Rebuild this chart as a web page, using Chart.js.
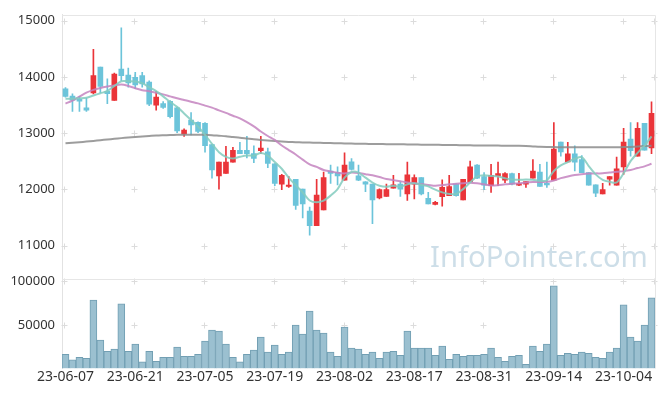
<!DOCTYPE html>
<html><head><meta charset="utf-8">
<script src="https://cdn.jsdelivr.net/npm/chart.js@4.4.0/dist/chart.umd.min.js"></script>
<style>html,body{margin:0;padding:0;background:#fff;}#wrap{width:665px;height:396px;}</style>
</head><body><div id="wrap"><canvas id="c" width="665" height="396"></canvas></div>
<script>
const dates = ['23-06-07','23-06-08','23-06-09','23-06-12','23-06-13','23-06-14','23-06-15','23-06-16','23-06-19','23-06-20',
'23-06-21','23-06-22','23-06-23','23-06-26','23-06-27','23-06-28','23-06-29','23-06-30','23-07-03','23-07-04',
'23-07-05','23-07-06','23-07-07','23-07-10','23-07-11','23-07-12','23-07-13','23-07-14','23-07-17','23-07-18',
'23-07-19','23-07-20','23-07-21','23-07-24','23-07-25','23-07-26','23-07-27','23-07-28','23-07-31','23-08-01',
'23-08-02','23-08-03','23-08-04','23-08-07','23-08-08','23-08-09','23-08-10','23-08-11','23-08-14','23-08-16',
'23-08-17','23-08-18','23-08-21','23-08-22','23-08-23','23-08-24','23-08-25','23-08-28','23-08-29','23-08-30',
'23-08-31','23-09-01','23-09-04','23-09-05','23-09-06','23-09-07','23-09-08','23-09-11','23-09-12','23-09-13',
'23-09-14','23-09-15','23-09-18','23-09-19','23-09-20','23-09-21','23-09-22','23-09-25','23-09-26','23-09-27',
'23-10-04','23-10-05','23-10-06','23-10-10','23-10-11'];

const openP = [13790,13660,13600,13450,13714,14175,13742,13584,14140,14035,
13995,14023,13907,13497,13526,13567,13450,12988,13233,13193,
13175,12795,12240,12286,12486,12697,12697,12637,12690,12667,
12456,12093,12052,12181,12005,11614,11356,11637,12328,12298,
12163,12491,12240,12135,12093,11847,11877,12023,12093,11918,
12093,12210,11842,11732,11872,11890,12093,11812,12135,12433,
12228,12065,12240,12163,12281,12075,12093,12198,12310,12110,
12163,12842,12491,12632,12532,12298,12082,11918,12181,12075,
12398,12895,12591,13175,12737];
const highP = [13810,13700,13654,13626,14491,14175,13965,14070,14872,14158,
14082,14082,13930,13742,13560,13580,13460,13075,13368,13200,
13190,12800,12486,12767,12750,12837,12942,12777,12942,12737,
12460,12268,12228,12181,12005,11684,12181,12310,12433,12400,
12649,12550,12433,12140,12093,12010,12093,12251,12135,12486,
12258,12210,11947,11790,12170,12251,12100,12181,12503,12440,
12298,12444,12486,12300,12290,12286,12140,12532,12444,12486,
13188,12842,12837,12777,12600,12298,12082,12110,12228,12574,
13088,13188,13188,13175,13556];
const lowP = [13640,13386,13386,13386,13700,13720,13526,13584,13935,13820,
13790,13820,13490,13409,13440,13270,13010,12942,12970,13010,
12660,12198,12005,12286,12486,12637,12561,12474,12637,12386,
12065,11995,12035,11644,11491,11188,11356,11637,12105,12080,
12163,12340,12154,11960,11391,11830,11877,12023,11877,11802,
11830,11900,11742,11725,11702,11890,11880,11812,12135,12190,
11995,11947,12065,12120,12080,12065,12035,12198,12052,12035,
12163,12591,12491,12328,12298,12075,11872,11918,12075,12075,
12268,12591,12591,12697,12637];
const closeP = [13654,13585,13567,13410,14023,13830,13702,14053,14023,13895,
13860,13877,13514,13644,13456,13293,13040,13053,13146,13030,
12777,12346,12486,12486,12697,12637,12637,12549,12737,12462,
12105,12251,12075,11714,11742,11356,11900,12210,12286,12240,
12433,12356,12163,12093,11812,11995,11995,12082,12005,12258,
12210,11918,11742,11772,12035,12052,11890,12181,12403,12198,
12075,12251,12281,12281,12093,12105,12140,12328,12052,12080,
12719,12667,12632,12486,12298,12075,11935,11995,12228,12368,
12842,12690,13088,12697,13351];

const ma5 = [13614,13614,13620,13630,13670,13710,13750,13840,13924,13924,
13920,13889,13819,13749,13655,13556,13468,13351,13234,13117,
12971,12810,12661,12579,12549,12579,12602,12602,12649,12602,
12486,12368,12210,12075,11947,11802,11772,11802,11889,12005,
12210,12310,12298,12210,12123,12065,12047,12065,12047,12093,
12111,12082,12053,11995,11947,11918,11918,12005,12123,12230,
12250,12240,12228,12198,12175,12170,12175,12170,12152,12163,
12328,12427,12486,12544,12573,12416,12268,12170,12135,12123,
12286,12503,12649,12777,12942];
const ma20 = [13526,13580,13650,13720,13770,13805,13830,13850,13865,13840,
13800,13765,13745,13720,13690,13655,13620,13590,13560,13530,
13490,13455,13405,13360,13310,13263,13195,13120,13030,12950,
12880,12780,12700,12620,12530,12444,12400,12345,12320,12295,
12285,12300,12290,12270,12250,12220,12185,12165,12145,12125,
12110,12095,12080,12065,12075,12090,12100,12110,12120,12110,
12090,12070,12075,12090,12100,12110,12123,12130,12133,12135,
12160,12200,12230,12255,12270,12281,12285,12286,12300,12315,
12325,12345,12380,12410,12456];
const ma120 = [12820,12830,12840,12850,12862,12875,12888,12900,12912,12922,
12932,12942,12950,12958,12963,12967,12970,12972,12973,12972,
12971,12965,12955,12945,12932,12920,12905,12890,12878,12868,
12860,12852,12845,12840,12836,12833,12830,12827,12824,12821,
12818,12815,12812,12810,12808,12806,12805,12803,12802,12800,
12798,12796,12795,12793,12791,12790,12788,12786,12784,12782,
12781,12780,12779,12778,12777,12776,12772,12765,12758,12754,
12752,12751,12750,12749,12749,12749,12749,12749,12749,12750,
12752,12756,12762,12770,12777];

const volume = [16300,9800,12900,11700,78500,32500,19800,22100,74000,19800,
27900,7500,19800,8300,12900,12900,24400,14000,14000,16300,
31300,44000,42800,27900,12900,7500,16300,21000,35900,18700,
26700,16300,18700,49800,39400,65900,44000,40500,18700,14000,
47500,23300,22100,16300,18700,11700,18700,19800,15200,42800,
23300,23300,23300,15200,25600,10600,16300,14000,15200,15200,
16300,23300,12900,8300,14000,15200,4800,25600,19800,27900,
94700,15200,17500,16300,18700,17500,12900,11700,18700,23300,
72800,35900,31300,49800,80900];

const priceTicks = [11000,12000,13000,14000,15000];
const volumeTicks = [50000,100000];
const xTickEvery = 10;

const UP = '#ea3439', DOWN = '#6cc4da';
const candleColors = closeP.map((c,i)=> c >= openP[i] ? UP : DOWN);
const FONT = {family:'"Noto Sans", "DejaVu Sans", sans-serif', size:13};
const XFONT = {family:'"Noto Sans", "DejaVu Sans", sans-serif', size:14};

const framePlugin = {
  id:'frame',
  beforeDatasetsDraw(chart){
    const {ctx, chartArea:a, scales} = chart;
    ctx.save();
    // watermark
    ctx.fillStyle = 'rgba(196,216,228,0.85)';
    let size = 32;
    ctx.font = size + 'px "Noto Sans", sans-serif';
    const w = ctx.measureText('InfoPointer.com').width;
    size = size * 218 / w;
    ctx.font = size + 'px "Noto Sans", sans-serif';
    ctx.textAlign = 'left'; ctx.textBaseline = 'alphabetic';
    ctx.fillText('InfoPointer.com', a.right - 225, scales.y.bottom - 12);
    // crosses
    ctx.strokeStyle = '#dcdcdc'; ctx.lineWidth = 1;
    const xs = [];
    for (let i = 0; i < dates.length; i += xTickEvery) xs.push(Math.round(scales.x.getPixelForValue(i)) - 1);
    xs.push(Math.round(a.right) - 1);
    const ys = [];
    priceTicks.forEach(v=>ys.push(Math.round(scales.y.getPixelForValue(v))));
    volumeTicks.forEach(v=>ys.push(Math.round(scales.yv.getPixelForValue(v))));
    ctx.beginPath();
    xs.forEach(x=>ys.forEach(y=>{
      ctx.moveTo(x-2.5, y+0.5); ctx.lineTo(x+3.5, y+0.5);
      ctx.moveTo(x+0.5, y-2.5); ctx.lineTo(x+0.5, y+3.5);
    }));
    ctx.stroke();
    // frame lines
    ctx.strokeStyle = '#e6e6e6';
    ctx.beginPath();
    const t = Math.round(a.top)+0.5, r = Math.round(a.right)+0.5, m = Math.round(scales.yv.top)+0.5;
    ctx.moveTo(a.left, t); ctx.lineTo(r, t); ctx.lineTo(r, a.bottom);
    ctx.moveTo(a.left, m); ctx.lineTo(r, m);
    ctx.stroke();
    ctx.restore();
  }
};

new Chart(document.getElementById('c'), {
  data: {
    labels: dates,
    datasets: [
      {type:'line', label:'MA5', data: ma5, yAxisID:'y', borderColor:'rgba(130,203,190,0.85)', borderWidth:2, pointRadius:0, tension:0.3, order:0},
      {type:'line', label:'MA20', data: ma20, yAxisID:'y', borderColor:'rgba(196,132,192,0.85)', borderWidth:2, pointRadius:0, tension:0.3, order:1},
      {type:'line', label:'MA120', data: ma120, yAxisID:'y', borderColor:'rgba(140,140,140,0.85)', borderWidth:2, pointRadius:0, tension:0.3, order:2},
      {type:'bar', label:'body', data: openP.map((o,i)=>[o, closeP[i]]), yAxisID:'y', backgroundColor: candleColors, barThickness:5, minBarLength:1, grouped:false, order:3},
      {type:'bar', label:'wick', data: lowP.map((l,i)=>[l, highP[i]]), yAxisID:'y', backgroundColor: candleColors, barThickness:1, grouped:false, order:4},
      {type:'bar', label:'volume', data: volume, yAxisID:'yv', backgroundColor:'#9bc0d0', borderColor:'#729fb3', borderWidth:1, barPercentage:1, categoryPercentage:1, grouped:false, order:5}
    ]
  },
  options: {
    responsive:false, animation:false, devicePixelRatio:1,
    layout:{padding:{left:8, right:10, top:10, bottom:0}},
    plugins:{legend:{display:false}, tooltip:{enabled:false}},
    scales:{
      x:{type:'category', grid:{display:false, drawTicks:false}, border:{display:false},
         ticks:{autoSkip:false, maxRotation:0, minRotation:0, padding:0, color:'#333', font:XFONT,
           callback:(v,i)=> i % xTickEvery === 0 ? dates[i] : null},
         afterFit:s=>{s.height = 27.5;}},
      yv:{type:'linear', position:'left', stack:'p', stackWeight:90.5, min:0, max:102260,
         afterBuildTicks:s=>{s.ticks = volumeTicks.map(v=>({value:v}));},
         grid:{display:false, drawTicks:false}, border:{display:true, color:'#e2e2e2'},
         ticks:{padding:7, color:'#333', font:FONT, callback:v=>String(v)}, afterFit:s=>{s.width = 54;}},
      y:{type:'linear', position:'left', stack:'p', stackWeight:268, min:10403, max:15105,
         afterBuildTicks:s=>{s.ticks = priceTicks.map(v=>({value:v}));},
         grid:{display:false, drawTicks:false}, border:{display:true, color:'#e2e2e2'},
         ticks:{padding:7, color:'#333', font:FONT, callback:v=>String(v)}, afterFit:s=>{s.width = 54;}}
    }
  },
  plugins:[framePlugin]
});
</script></body></html>
